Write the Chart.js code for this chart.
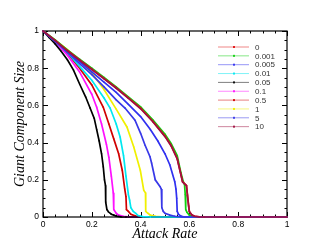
<!DOCTYPE html>
<html>
<head>
<meta charset="utf-8">
<script src="https://cdn.jsdelivr.net/npm/chart.js@4.4.1/dist/chart.umd.min.js"></script>
<style>
  body { margin: 0; background: #fff; }
</style>
</head>
<body>
<canvas id="myChart" width="327" height="245"></canvas>
<script>
// legend labels (order as in the legend box)
const labels = ['0', '0.001', '0.005', '0.01', '0.05', '0.1', '0.5', '1', '5', '10'];
const colors = ['#e01010', '#10d010', '#3030f0', '#00e8f0', '#000000', '#ff10ff', '#d00000', '#f0f000', '#3838e8', '#a01040'];

// series values (x = attack rate, y = giant component size)
const x0 = [0, 0.05, 0.1, 0.15, 0.2, 0.25, 0.3, 0.35, 0.4, 0.45, 0.5, 0.525, 0.55, 0.565, 0.572, 0.58, 0.588, 0.592, 0.597, 0.6, 0.61, 0.62, 0.64, 0.66, 1];
const y0 = [1, 0.95, 0.895, 0.845, 0.795, 0.745, 0.695, 0.64, 0.585, 0.515, 0.435, 0.385, 0.315, 0.23, 0.19, 0.18, 0.17, 0.12, 0.06, 0.03, 0.012, 0.005, 0.001, 0, 0];

const x0001 = [0, 0.05, 0.1, 0.15, 0.2, 0.25, 0.3, 0.35, 0.4, 0.45, 0.5, 0.525, 0.55, 0.565, 0.575, 0.58, 0.583, 0.585, 0.59, 0.6, 0.62, 0.64, 1];
const y0001 = [1, 0.952, 0.898, 0.848, 0.8, 0.75, 0.7, 0.646, 0.592, 0.522, 0.445, 0.395, 0.33, 0.24, 0.19, 0.175, 0.12, 0.04, 0.025, 0.01, 0.002, 0, 0];

const x0005 = [0, 0.05, 0.1, 0.15, 0.2, 0.25, 0.3, 0.35, 0.4, 0.44, 0.47, 0.5, 0.52, 0.54, 0.545, 0.548, 0.55, 0.555, 0.565, 0.58, 1];
const y0005 = [1, 0.945, 0.89, 0.835, 0.78, 0.725, 0.67, 0.605, 0.54, 0.47, 0.41, 0.34, 0.28, 0.19, 0.15, 0.1, 0.03, 0.015, 0.005, 0, 0];

const x001 = [0, 0.05, 0.1, 0.15, 0.2, 0.25, 0.275, 0.3, 0.316, 0.33, 0.34, 0.35, 0.355, 0.36, 0.37, 0.38, 0.39, 0.41, 0.44, 1];
const y001 = [1, 0.945, 0.885, 0.81, 0.735, 0.64, 0.586, 0.5, 0.43, 0.33, 0.22, 0.12, 0.09, 0.05, 0.03, 0.02, 0.008, 0.002, 0, 0];

const x005 = [0, 0.025, 0.05, 0.075, 0.1, 0.125, 0.15, 0.175, 0.193, 0.21, 0.22, 0.23, 0.24, 0.247, 0.252, 0.256, 0.257, 0.262, 0.268, 0.28, 0.29, 0.3, 0.32, 0.34, 1];
const y005 = [1, 0.965, 0.93, 0.89, 0.845, 0.79, 0.715, 0.645, 0.586, 0.53, 0.47, 0.41, 0.34, 0.27, 0.2, 0.17, 0.08, 0.04, 0.028, 0.015, 0.01, 0.005, 0.001, 0, 0];

const x01 = [0, 0.05, 0.1, 0.15, 0.2, 0.22, 0.24, 0.26, 0.27, 0.28, 0.288, 0.29, 0.3, 0.31, 0.33, 0.36, 1];
const y01 = [1, 0.94, 0.87, 0.78, 0.66, 0.59, 0.5, 0.39, 0.32, 0.22, 0.13, 0.04, 0.02, 0.01, 0.003, 0, 0];

const x05 = [0, 0.05, 0.1, 0.15, 0.2, 0.247, 0.27, 0.29, 0.31, 0.325, 0.335, 0.34, 0.342, 0.35, 0.36, 0.38, 0.4, 0.42, 1];
const y05 = [1, 0.945, 0.88, 0.8, 0.71, 0.59, 0.5, 0.42, 0.34, 0.25, 0.15, 0.11, 0.04, 0.03, 0.015, 0.005, 0.001, 0, 0];

const x1 = [0, 0.05, 0.1, 0.15, 0.2, 0.25, 0.3, 0.344, 0.372, 0.399, 0.413, 0.42, 0.421, 0.43, 0.44, 0.46, 0.5, 1];
const y1 = [1, 0.95, 0.9, 0.84, 0.775, 0.685, 0.58, 0.484, 0.376, 0.25, 0.143, 0.13, 0.03, 0.02, 0.01, 0.004, 0, 0];

const x5 = [0, 0.05, 0.1, 0.15, 0.2, 0.25, 0.3, 0.336, 0.377, 0.4, 0.418, 0.4385, 0.445, 0.46, 0.48, 0.485, 0.487, 0.493, 0.5, 0.52, 0.54, 0.57, 1];
const y5 = [1, 0.945, 0.885, 0.825, 0.765, 0.7, 0.63, 0.586, 0.52, 0.45, 0.387, 0.324, 0.29, 0.2, 0.163, 0.15, 0.05, 0.03, 0.02, 0.01, 0.004, 0, 0];

const x10 = [0, 0.05, 0.1, 0.15, 0.2, 0.25, 0.3, 0.35, 0.4, 0.45, 0.5, 0.525, 0.55, 0.565, 0.572, 0.58, 0.588, 0.592, 0.597, 0.6, 0.61, 0.62, 0.64, 0.66, 1];
const y10 = [1, 0.948, 0.893, 0.843, 0.793, 0.743, 0.692, 0.638, 0.582, 0.512, 0.432, 0.382, 0.312, 0.228, 0.188, 0.178, 0.168, 0.115, 0.055, 0.028, 0.01, 0.004, 0.001, 0, 0];

// tick values and their printed labels
const tickValues = [0, 0.2, 0.4, 0.6, 0.8, 1];
const tickLabels = ['0', '0.2', '0.4', '0.6', '0.8', '1'];

const xsAll = [x0, x0001, x0005, x001, x005, x01, x05, x1, x5, x10];
const ysAll = [y0, y0001, y0005, y001, y005, y01, y05, y1, y5, y10];
const drawOrder = [3, 4, 5, 6, 7, 8, 9, 10, 2, 0];

const datasets = labels.map((lab, i) => ({
    label: lab,
    data: xsAll[i].map((v, j) => ({x: v, y: ysAll[i][j]})),
    borderColor: colors[i],
    backgroundColor: colors[i],
    borderWidth: 1.7,
    pointStyle: 'rect',
    pointRadius: 0.9,
    pointBorderWidth: 0,
    tension: 0,
    clip: 4,
    order: drawOrder[i]
}));

// frame with inward ticks on all four sides
const frame = {
    id: 'frame',
    beforeDatasetsDraw(chart) {
        const {ctx, chartArea: a, scales: {x, y}} = chart;
        ctx.save();
        ctx.strokeStyle = '#000';
        ctx.lineWidth = 1.2;
        ctx.strokeRect(a.left, a.top, a.right - a.left, a.bottom - a.top);
        ctx.lineWidth = 1;
        ctx.beginPath();
        for (let i = 0; i <= 20; i++) {
            const v = i / 20;
            const len = i % 4 === 0 ? 5 : 2.5;
            const px = Math.round(x.getPixelForValue(v)) + 0.5;
            const py = Math.round(y.getPixelForValue(v)) + 0.5;
            ctx.moveTo(px, a.bottom); ctx.lineTo(px, a.bottom - len);
            ctx.moveTo(px, a.top); ctx.lineTo(px, a.top + len);
            ctx.moveTo(a.left, py); ctx.lineTo(a.left + len, py);
            ctx.moveTo(a.right, py); ctx.lineTo(a.right - len, py);
        }
        ctx.stroke();
        ctx.restore();
    }
};

// legend box drawn inside the plot, line + marker + label
const legendBox = {
    id: 'legendBox',
    afterDraw(chart) {
        const ctx = chart.ctx;
        ctx.save();
        ctx.font = '8px "Liberation Sans", Arial, sans-serif';
        ctx.textBaseline = 'middle';
        labels.forEach((lab, i) => {
            const yy = 47 + i * 8.85;
            ctx.globalAlpha = 0.5;
            ctx.strokeStyle = colors[i];
            ctx.lineWidth = 1;
            ctx.beginPath();
            ctx.moveTo(218, yy); ctx.lineTo(249, yy);
            ctx.stroke();
            ctx.globalAlpha = 0.9;
            ctx.fillStyle = colors[i];
            ctx.fillRect(233, yy - 1, 2, 2);
            ctx.globalAlpha = 1;
            ctx.fillStyle = '#333';
            ctx.fillText(lab, 255, yy + 0.5);
        });
        ctx.restore();
    }
};

const tickFont = {family: '"Liberation Sans", Arial, sans-serif', size: 8.5};
const titleFont = {family: '"Liberation Serif", "Times New Roman", serif', size: 14, style: 'italic'};
const tickText = (v) => tickLabels[tickValues.indexOf(v)] ?? '';

const ctx = document.getElementById('myChart').getContext('2d');
let myChart = new Chart(ctx, {
    type: 'line',
    data: {datasets: datasets},
    options: {
        responsive: false,
        animation: false,
        devicePixelRatio: 1,
        layout: {padding: {top: 31, right: 40, left: 0, bottom: 0}},
        plugins: {legend: {display: false}, tooltip: {enabled: false}},
        scales: {
            x: {
                type: 'linear', min: 0, max: 1,
                afterBuildTicks: s => { s.ticks = tickValues.map(v => ({value: v})); },
                afterFit: s => { s.height = 28; },
                grid: {display: false, drawTicks: false},
                border: {display: false},
                ticks: {font: tickFont, color: '#000', padding: 3, maxRotation: 0, callback: tickText},
                title: {display: true, text: 'Attack Rate', font: titleFont, color: '#000', padding: {top: 0, bottom: 2}}
            },
            y: {
                type: 'linear', min: 0, max: 1,
                afterBuildTicks: s => { s.ticks = tickValues.map(v => ({value: v})); },
                afterFit: s => { s.width = 43; },
                grid: {display: false, drawTicks: false},
                border: {display: false},
                ticks: {font: tickFont, color: '#000', padding: 4, callback: tickText},
                title: {display: true, text: 'Giant Component Size', font: titleFont, color: '#000', padding: {top: 12, bottom: 0}}
            }
        }
    },
    plugins: [frame, legendBox]
});
</script>
</body>
</html>
